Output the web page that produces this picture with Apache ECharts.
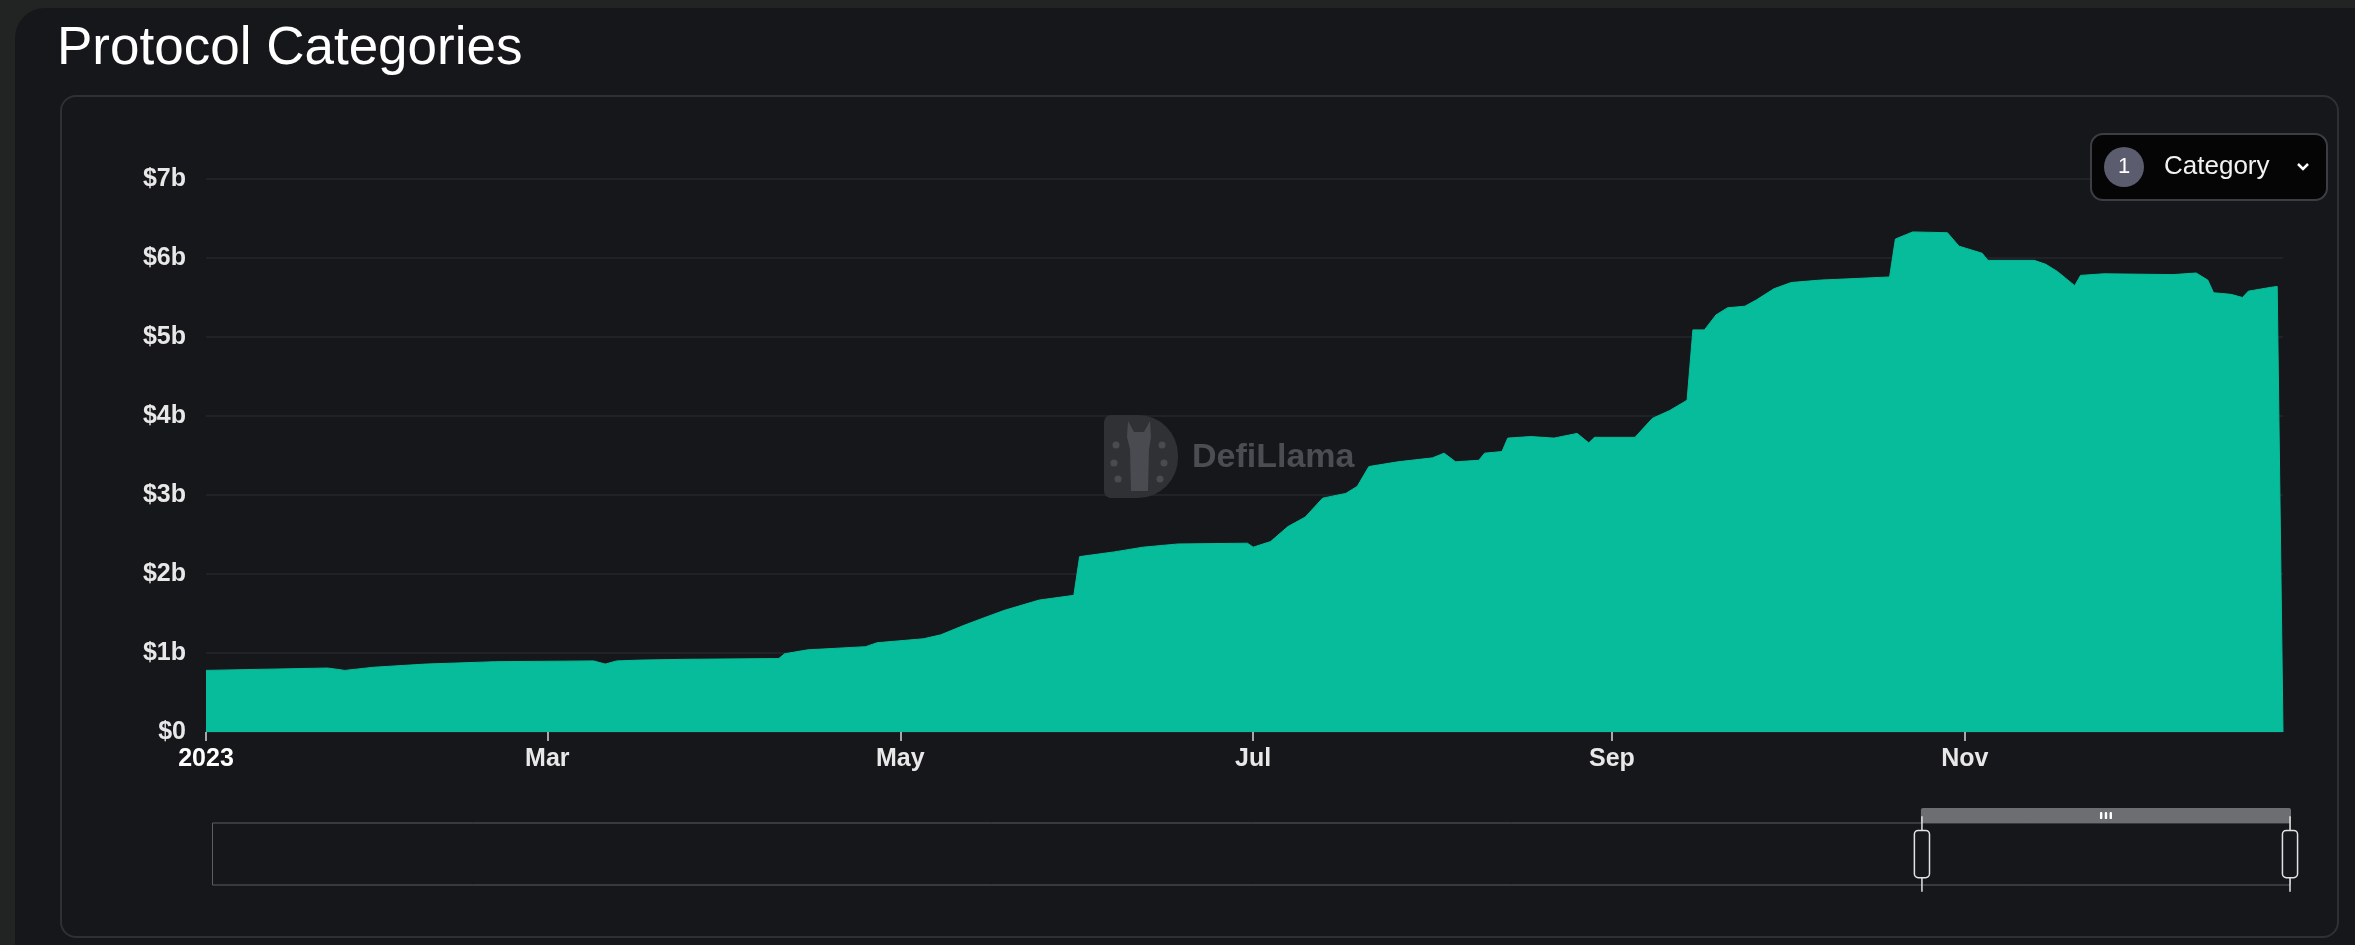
<!DOCTYPE html>
<html>
<head>
<meta charset="utf-8">
<script src="https://cdn.jsdelivr.net/npm/echarts@6/dist/echarts.min.js"></script>
<style>
  html, body { margin:0; padding:0; width:2355px; height:945px; overflow:hidden; background:#222423; }
  #card { position:absolute; left:15px; top:8px; width:2400px; height:1000px; background:#16171a; border-radius:30px; }
  #inner { position:absolute; left:60px; top:95px; width:2279px; height:843px; border:2px solid #2f3035; border-radius:16px; box-sizing:border-box; }
  #chart { position:absolute; left:0; top:0; width:2355px; height:945px; }
</style>
</head>
<body>
<div id="card"></div>
<div id="inner"></div>
<div id="chart"></div>
<script>
// ---- data (values in USD billions) ----
const dates = [
  '2023-01-01','2023-01-22','2023-01-25','2023-01-30','2023-02-08','2023-02-20','2023-03-09','2023-03-11',
  '2023-03-13','2023-03-17','2023-03-25','2023-04-10','2023-04-11','2023-04-15','2023-04-25','2023-04-27',
  '2023-05-05','2023-05-08','2023-05-12','2023-05-16','2023-05-19','2023-05-25','2023-05-31','2023-06-01',
  '2023-06-07','2023-06-12','2023-06-18','2023-06-30','2023-07-01','2023-07-04','2023-07-07','2023-07-10',
  '2023-07-13','2023-07-17','2023-07-19','2023-07-21','2023-07-26','2023-08-01','2023-08-03','2023-08-05',
  '2023-08-09','2023-08-10','2023-08-13','2023-08-14','2023-08-18','2023-08-22','2023-08-26','2023-08-28',
  '2023-08-29','2023-09-05','2023-09-08','2023-09-11','2023-09-14','2023-09-15','2023-09-17','2023-09-19',
  '2023-09-21','2023-09-24','2023-09-26','2023-09-29','2023-10-02','2023-10-07','2023-10-13','2023-10-19',
  '2023-10-20','2023-10-23','2023-10-29','2023-10-31','2023-11-04','2023-11-05','2023-11-13','2023-11-15',
  '2023-11-17','2023-11-20','2023-11-21','2023-11-25','2023-12-07','2023-12-11','2023-12-13','2023-12-14',
  '2023-12-17','2023-12-19','2023-12-20','2023-12-24','2023-12-25','2023-12-26'
];
const tvlValues = [
  0.78,0.81,0.78,0.82,0.86,0.89,0.90,0.86,
  0.90,0.91,0.92,0.93,0.99,1.04,1.08,1.13,
  1.18,1.23,1.35,1.46,1.54,1.67,1.73,2.22,
  2.28,2.34,2.38,2.39,2.34,2.41,2.60,2.72,
  2.96,3.02,3.11,3.36,3.42,3.47,3.53,3.42,
  3.44,3.53,3.55,3.72,3.74,3.72,3.78,3.66,
  3.73,3.73,3.97,4.07,4.20,5.09,5.09,5.28,
  5.37,5.39,5.47,5.61,5.69,5.72,5.74,5.76,
  6.24,6.33,6.32,6.15,6.06,5.97,5.97,5.92,
  5.83,5.65,5.78,5.80,5.79,5.81,5.72,5.56,
  5.54,5.50,5.58,5.63,5.64,0
];
const xTickDates = ['2023-01-01','2023-03-01','2023-05-01','2023-07-01','2023-09-01','2023-11-01'];
const xTickLabels = ['2023','Mar','May','Jul','Sep','Nov'];
const yTickLabels = ['$0','$1b','$2b','$3b','$4b','$5b','$6b','$7b'];
const titleText = 'Protocol Categories';
const buttonCount = '1';
const buttonLabel = 'Category';
const watermarkText = 'DefiLlama';

// ---- build ----
function ts(s){ const p = s.split('-').map(Number); return Date.UTC(p[0], p[1]-1, p[2]); }
const seriesData = dates.map((d,i) => [ts(d), tvlValues[i]]);
const xTickTs = xTickDates.map(ts);
const xMin = ts(dates[0]);
const xMax = ts(dates[dates.length-1]);
const FONT = '"Liberation Sans", Arial, sans-serif';
const TEAL = '#07bc9b';

const chart = echarts.init(document.getElementById('chart'), null, {renderer:'canvas'});

const LX = 1104, LY = 415;
const llama = [[24,6],[30,17],[40,17],[46,6],[47,22],[45,34],[44,76],[27,76],[26,34],[23,22]].map(p=>[LX+p[0],LY+p[1]]);
const dots = [[12,30],[10,48],[14,64],[58,30],[60,48],[56,64]];

const graphics = [
  { type:'rect', silent:true, z:1, shape:{ x:LX, y:LY, width:74, height:83, r:[7,40,40,7] }, style:{ fill:'#303135' } },
  { type:'polygon', silent:true, z:1, shape:{ points: llama }, style:{ fill:'#4a4b50' } }
];
dots.forEach(d => graphics.push({ type:'circle', silent:true, z:1, shape:{ cx: LX+d[0], cy: LY+d[1], r: 3.5 }, style:{ fill:'#4a4b50' } }));
graphics.push(
  { type:'text', silent:true, z:1, x: 1192, y: 458,
    style:{ text: watermarkText, fill:'#4c4d52', font: 'bold 34px ' + FONT, verticalAlign:'middle' } },
  { type:'rect', z:10, shape:{ x:2091, y:134, width:236, height:66, r:12 },
    style:{ fill:'#050506', stroke:'#3d3e43', lineWidth:2 } },
  { type:'circle', z:11, shape:{ cx:2124, cy:167, r:20 }, style:{ fill:'#5b5c6d' } },
  { type:'text', z:12, x:2124, y:167,
    style:{ text: buttonCount, fill:'#ffffff', font:'22px ' + FONT, align:'center', verticalAlign:'middle' } },
  { type:'text', z:12, x:2164, y:167,
    style:{ text: buttonLabel, fill:'#f2f2f2', font:'26px ' + FONT, align:'left', verticalAlign:'middle' } },
  { type:'polyline', z:12, shape:{ points:[[2298,164],[2303,169],[2308,164]] },
    style:{ stroke:'#ffffff', lineWidth:2.5, fill:null } }
);

chart.setOption({
  backgroundColor: 'transparent',
  animation: false,
  title: {
    text: titleText, left: 57, top: 23, padding: 0,
    textStyle: { color:'#ffffff', fontSize: 53, fontWeight: 'normal', fontFamily: FONT }
  },
  grid: { left: 206, right: 72, top: 179, bottom: 213 },
  xAxis: [{
    type: 'value', min: xMin, max: xMax,
    axisLine: { show: false },
    axisTick: { show: true, length: 9, lineStyle: { color:'#d8d8d8', width: 1.5 }, customValues: xTickTs },
    axisLabel: {
      color: '#e8e8e8', fontSize: 25, fontWeight: 'bold', fontFamily: FONT, margin: 15,
      customValues: xTickTs,
      formatter: function(v){
        const i = xTickTs.indexOf(v);
        const t = i >= 0 ? xTickLabels[i] : '';
        return i === 0 ? '{b|' + t + '}' : t;
      },
      rich: { b: { fontWeight: 'bold', fontSize: 25, color:'#ffffff', fontFamily: FONT } }
    },
    splitLine: { show: false }
  }, {
    type: 'value', min: xMin, max: xMax, show: false
  }],
  yAxis: {
    type: 'value', min: 0, max: 7, interval: 1,
    axisLine: { show: false }, axisTick: { show: false },
    axisLabel: {
      color: '#e8e8e8', fontSize: 25, fontWeight: 'bold', fontFamily: FONT, margin: 20,
      formatter: v => yTickLabels[Math.round(v)]
    },
    splitLine: { lineStyle: { color: '#26272c', width: 1.5 } }
  },
  dataZoom: [{
    type: 'slider', xAxisIndex: 1, start: 82.2, end: 100,
    left: 206, right: 70, top: 808, height: 63,
    showDataShadow: false, showDetail: false,
    backgroundColor: 'rgba(0,0,0,0)',
    borderColor: '#5c5e62',
    fillerColor: 'rgba(0,0,0,0)',
    handleSize: '120%',
    handleStyle: { color: '#17181c', borderColor: '#e2e2e2', borderWidth: 1.5 },
    brushSelect: true,
    moveHandleSize: 15,
    moveHandleStyle: { color: '#6c6e72', opacity: 1 },
    emphasis: { moveHandleStyle: { color: '#6c6e72', opacity: 1 }, handleStyle: { borderColor: '#e2e2e2' } }
  }],
  graphic: graphics,
  series: [{
    type: 'line', xAxisIndex: 0, data: seriesData,
    showSymbol: false, symbol: 'none',
    lineStyle: { color: TEAL, width: 1 },
    itemStyle: { color: TEAL },
    areaStyle: { color: TEAL, opacity: 1 },
    z: 3
  }, {
    type: 'line', xAxisIndex: 1, data: seriesData, silent: true,
    showSymbol: false, symbol: 'none',
    lineStyle: { opacity: 0 }, z: 0
  }]
});
</script>
</body>
</html>
